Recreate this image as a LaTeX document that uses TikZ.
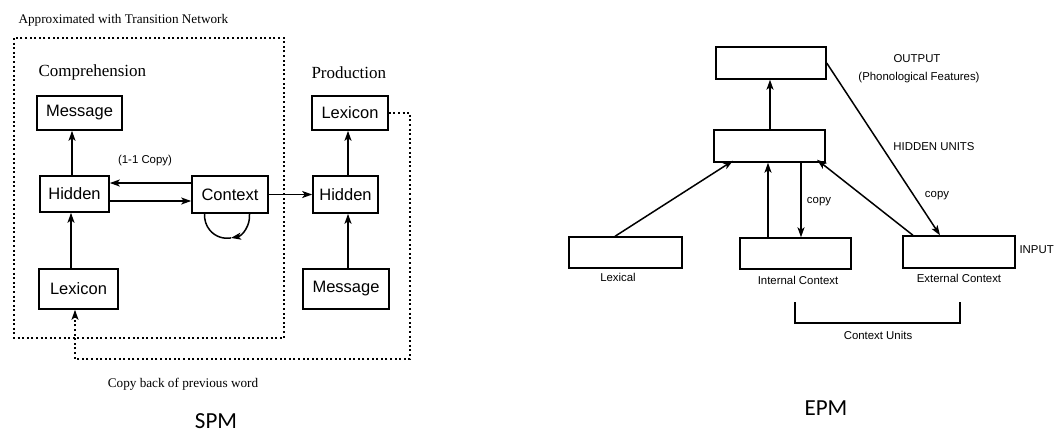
\documentclass[tikz,border=0pt]{standalone}
\usepackage{fontspec}
\setmainfont{Liberation Serif}
\newfontfamily\arialf{Liberation Sans}
\newfontfamily\calibrif{Carlito}
\usetikzlibrary{arrows.meta}
\begin{document}
\begin{tikzpicture}[x=1pt,y=-1pt,
  sbox/.style={draw,line width=1.6pt,rectangle,inner sep=0pt,font=\arialf\fontsize{16.5}{18}\selectfont},
  ebox/.style={draw,line width=1.4pt,rectangle,inner sep=0pt},
  arr/.style={line width=1.5pt,-{Stealth[length=10pt,width=7pt,inset=2.5pt]}},
  ln/.style={line width=1.4pt},
  dotl/.style={line width=1.4pt,dash pattern=on 2pt off 2.6pt},
  serifl/.style={font=\fontsize{13.2}{15}\selectfont},
  heading/.style={font=\fontsize{17}{19}\selectfont},
  lab/.style={font=\arialf\fontsize{11.4}{13}\selectfont},
  big/.style={font=\calibrif\fontsize{23}{26}\selectfont}]
\useasboundingbox[fill=white] (0,0) rectangle (1062,434);

% ---------------- SPM ----------------
\node[serifl,anchor=west] (approx) at (15,20) {Approximated with Transition Network};
\draw[dotl] (14,38) rectangle (284,338);
\node[heading,anchor=west] (comp) at (35,72) {Comprehension};
\node[heading,anchor=west] (prod) at (308,73) {Production};

\node[sbox,minimum width=85pt,minimum height=34pt] (msgC) at (79.5,113) {Message};
\node[sbox,minimum width=69pt,minimum height=36pt] (hidC) at (74.5,194) {Hidden};
\node[sbox,minimum width=76pt,minimum height=37pt] (ctx) at (230,194.5) {Context};
\node[sbox,minimum width=79pt,minimum height=40pt] (lexC) at (78.5,289) {Lexicon};
\node[sbox,minimum width=76pt,minimum height=34pt] (lexP) at (350,113) {Lexicon};
\node[sbox,minimum width=65pt,minimum height=37pt] (hidP) at (345.5,194.5) {Hidden};
\node[sbox,minimum width=86pt,minimum height=40pt] (msgP) at (346,289) {Message};

\node[lab] (copy11) at (145,161) {(1-1 Copy)};

\draw[arr] (lexC.north -| 71,0) -- (hidC.south -| 71,0);
\draw[arr] (hidC.north -| 72,0) -- (msgC.south -| 72,0);
\draw[arr] (ctx.west |- 0,183) -- (hidC.east |- 0,183);
\draw[arr] (hidC.east |- 0,201) -- (ctx.west |- 0,201);
\draw[arr] (ctx.east) -- (hidP.west);
\draw[arr] (msgP.north -| 348,0) -- (hidP.south -| 348,0);
\draw[arr] (hidP.north -| 348,0) -- (lexP.south -| 348,0);

% self loop on Context
\coordinate (loopR) at (ctx.south -| 249.5,0);
\draw[arr] (loopR) arc[start angle=5,end angle=-80,radius=22.5pt] coordinate (loopM);
\draw[line width=1.5pt] (loopM) arc[start angle=-80,end angle=-185,radius=22.5pt];

% copy back dotted connector
\coordinate (cb1) at (410,113);
\coordinate (cb2) at (410,359);
\coordinate (cb3) at (75,359);
\draw[dotl,-{Stealth[length=10pt,width=7pt,inset=2.5pt]}] (lexP.east) -- (cb1) -- (cb2) -- (cb3) -- (lexC.south -| cb3);

\node[serifl] (copyback) at (183,384) {Copy back of previous word};
\node[big] (spm) at (216,421) {SPM};

% ---------------- EPM ----------------
\node[ebox,minimum width=110pt,minimum height=32pt] (out) at (771,63) {};
\node[ebox,minimum width=111pt,minimum height=32pt] (hid) at (769.5,146) {};
\node[ebox,minimum width=113pt,minimum height=31pt] (lexl) at (625.5,252.5) {};
\node[ebox,minimum width=111pt,minimum height=31pt] (intc) at (795.5,253.5) {};
\node[ebox,minimum width=112pt,minimum height=32pt] (extc) at (959,252) {};

\draw[arr] (hid.north -| 770,0) -- (out.south -| 770,0);
\draw[arr] (lexl.north -| 615,0) -- ([yshift=2pt]hid.south -| 733,0);
\draw[arr] (intc.north -| 768,0) -- (hid.south -| 768,0);
\draw[arr] (hid.south -| 801,0) -- (intc.north -| 801,0);
\draw[arr] (extc.north -| 913,0) -- ([yshift=3pt]hid.south -| 817,0);
\draw[arr] (out.east |- 0,63) -- (extc.north -| 940,0);

\node[lab] (outl) at (917,59) {OUTPUT};
\node[lab] (phon) at (919,78) {(Phonological Features)};
\node[lab] (hidl) at (934,147) {HIDDEN UNITS};
\node[lab] (copy1) at (819,202) {copy};
\node[lab] (copy2) at (937,196) {copy};
\node[lab,anchor=west] (inp) at (1016,250) {INPUT};
\node[lab] (lexlab) at (618,277) {Lexical};
\node[lab] (intlab) at (798,280) {Internal Context};
\node[lab] (extlab) at (959,278) {External Context};

\coordinate (br1) at (795,302);
\coordinate (br2) at (960,302);
\draw[ln] (br1) -- (795,323) -- (960,323) -- (br2);
\node[lab] (cul) at (878,335) {Context Units};
\node[big] (epm) at (826,408) {EPM};
\end{tikzpicture}
\end{document}
